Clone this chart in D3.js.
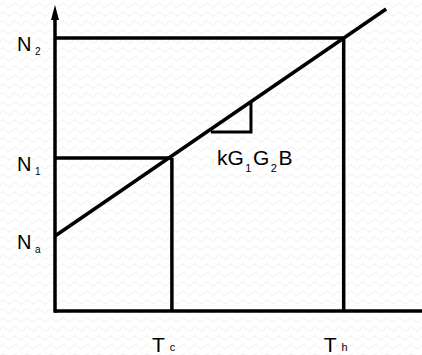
<!DOCTYPE html>
<html>
<head>
<meta charset="utf-8">
<script src="https://cdn.jsdelivr.net/npm/d3@7"></script>
<style>
  html, body { margin: 0; padding: 0; background: #fff; }
  svg { display: block; }
  text { font-family: "Liberation Sans", Arial, sans-serif; fill: #000; }
</style>
</head>
<body>
<svg id="chart" width="422" height="355"></svg>
<script>
// Temperature points (T axis) and population levels (N axis), arbitrary units
const tPoints = [
  { name: "T", sub: "c", value: 3.0 },
  { name: "T", sub: "h", value: 7.41 }
];
const nPoints = [
  { name: "N", sub: "2", value: 9.1 },
  { name: "N", sub: "1", value: 5.1 },
  { name: "N", sub: "a", value: 2.5 }
];
// Straight line N = Na + slope * T, drawn between these two T values
const lineT = [0, 8.5];
const slope = 0.89;
// Slope triangle: horizontal leg from t0 to t1 at level n
const slopeTri = { t0: 4.0, t1: 5.03, n: 5.97 };
const slopeLabel = ["kG", "1", "G", "2", "B"];
// Axis extents
const tMax = 9.42;
const nMax = 10.2;

const svg = d3.select("#chart");
const W = 422, H = 355;

// faint wavy paper texture
const defs = svg.append("defs");
const pat = defs.append("pattern")
  .attr("id", "paper").attr("width", 12).attr("height", 9)
  .attr("patternUnits", "userSpaceOnUse");
pat.append("path")
  .attr("d", "M0 5 Q3 1 6 5 T12 5")
  .attr("fill", "none").attr("stroke", "#efefef").attr("stroke-width", 1);
svg.append("rect").attr("width", W).attr("height", H).attr("fill", "#fff");
svg.append("rect").attr("width", W).attr("height", H).attr("fill", "url(#paper)");

const x = d3.scaleLinear().domain([0, tMax]).range([55, 422]);
const y = d3.scaleLinear().domain([0, nMax]).range([311, 5]);

const Na = nPoints.find(d => d.sub === "a").value;
const N1 = nPoints.find(d => d.sub === "1").value;
const N2 = nPoints.find(d => d.sub === "2").value;
const Tc = tPoints.find(d => d.sub === "c").value;
const Th = tPoints.find(d => d.sub === "h").value;

const g = svg.append("g")
  .attr("stroke", "#000").attr("fill", "none").attr("stroke-linecap", "butt");

// axes
g.append("line").attr("x1", x(0)).attr("x2", x(tMax)).attr("y1", y(0)).attr("y2", y(0))
  .attr("stroke-width", 3.5);
g.append("line").attr("x1", x(0)).attr("x2", x(0)).attr("y1", y(0) + 1.75).attr("y2", y(nMax) + 12)
  .attr("stroke-width", 3.5);
svg.append("path")
  .attr("d", `M${x(0)},${y(nMax)} L${x(0) - 4},${y(nMax) + 15} L${x(0) + 4},${y(nMax) + 15} Z`)
  .attr("fill", "#000");

// guide lines from axes to the operating points
g.append("line").attr("x1", x(0)).attr("x2", x(Th)).attr("y1", y(N2)).attr("y2", y(N2))
  .attr("stroke-width", 3.5);
g.append("line").attr("x1", x(Th)).attr("x2", x(Th)).attr("y1", y(0)).attr("y2", y(N2))
  .attr("stroke-width", 3.5);
g.append("line").attr("x1", x(0)).attr("x2", x(Tc)).attr("y1", y(N1)).attr("y2", y(N1))
  .attr("stroke-width", 3.5);
g.append("line").attr("x1", x(Tc)).attr("x2", x(Tc)).attr("y1", y(0)).attr("y2", y(N1))
  .attr("stroke-width", 3.5);

// the straight line N(T)
const lineGen = d3.line().x(d => x(d)).y(d => y(Na + slope * d));
g.append("path").attr("d", lineGen(lineT)).attr("stroke-width", 3.5);

// slope triangle
const triTop = Na + slope * slopeTri.t1;
g.append("path")
  .attr("d", d3.line()([
    [x(slopeTri.t0), y(slopeTri.n)],
    [x(slopeTri.t1), y(slopeTri.n)],
    [x(slopeTri.t1), y(triTop)]
  ]))
  .attr("stroke-width", 3);

// slope label
const lab = svg.append("text")
  .attr("x", 217).attr("y", 165).attr("font-size", 21);
slopeLabel.forEach((s, i) => {
  const isSub = i % 2 === 1;
  lab.append("tspan")
    .attr("font-size", isSub ? 11 : 21)
    .attr("dy", isSub ? 7 : (i > 0 ? -7 : 0))
    .attr("dx", i > 0 ? 1.5 : 0)
    .text(s);
});

// N labels on the vertical axis
nPoints.forEach(d => {
  const t = svg.append("text")
    .attr("x", 17).attr("y", y(d.value) + 13)
    .attr("font-size", 20);
  t.append("tspan").text(d.name);
  t.append("tspan").attr("font-size", 10).attr("dx", 3.5).attr("dy", 4).text(d.sub);
});

// T labels under the horizontal axis
tPoints.forEach(d => {
  const t = svg.append("text")
    .attr("x", x(d.value) - 20).attr("y", 352)
    .attr("font-size", 21);
  t.append("tspan").text(d.name);
  t.append("tspan").attr("font-size", 11).attr("dx", 5).attr("dy", -1).text(d.sub);
});
</script>
</body>
</html>
